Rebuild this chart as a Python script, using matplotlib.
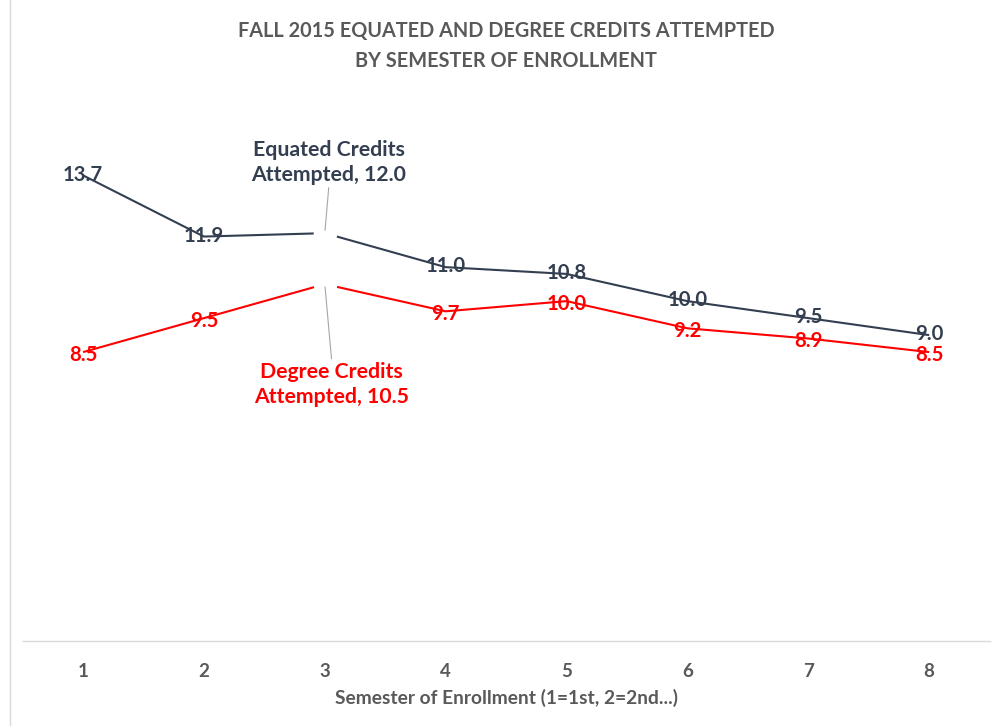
import matplotlib
matplotlib.use("Agg")
import matplotlib.pyplot as plt
from matplotlib.lines import Line2D

semesters = [1, 2, 3, 4, 5, 6, 7, 8]
equated = [13.7, 11.9, 12.0, 11.0, 10.8, 10.0, 9.5, 9.0]
degree = [8.5, 9.5, 10.5, 9.7, 10.0, 9.2, 8.9, 8.5]
callout_idx = 2

NAVY = "#333F50"
RED = "#FF0000"
GRAY = "#595959"

plt.rcParams['font.family'] = ['Lato', 'DejaVu Sans']

fig = plt.figure(figsize=(9.92, 7.26), dpi=100)
ax = fig.add_axes([0.0228, 0.1171, 0.9748, 0.749])
ax.set_xlim(0.5, 8.5)
ax.set_ylim(0, 16)

for vals, col, dy in [(equated, NAVY, 0.5), (degree, RED, -2)]:
    ax.plot(semesters, vals, color=col, lw=1.5, zorder=2, solid_capstyle='butt')
    # blank area around the moved label's point
    ax.plot([semesters[callout_idx]], [vals[callout_idx]], 'o', ms=17,
            mfc='white', mec='none', zorder=3)
    for i, (x, v) in enumerate(zip(semesters, vals)):
        if i == callout_idx:
            continue
        ax.annotate(f"{v:.1f}", xy=(x, v), xytext=(0, dy),
                    textcoords='offset points', ha='center', va='center',
                    color=col, fontsize=14.6, fontweight='bold', zorder=5)

ax.annotate(f"Equated Credits\nAttempted, {equated[callout_idx]:.1f}",
            xy=(semesters[callout_idx], equated[callout_idx]),
            xytext=(3, 51), textcoords='offset points', ha='center', va='center',
            color=NAVY, fontsize=15.3, fontweight='bold', linespacing=1.32,
            arrowprops=dict(arrowstyle='-', color='#A6A6A6', lw=0.8,
                            shrinkA=0, shrinkB=2, relpos=(0.5, 0)), zorder=5)
ax.annotate(f"Degree Credits\nAttempted, {degree[callout_idx]:.1f}",
            xy=(semesters[callout_idx], degree[callout_idx]),
            xytext=(5, -72), textcoords='offset points', ha='center', va='center',
            color=RED, fontsize=15.3, fontweight='bold', linespacing=1.32,
            arrowprops=dict(arrowstyle='-', color='#A6A6A6', lw=0.8,
                            shrinkA=0, shrinkB=2, relpos=(0.5, 1)), zorder=5)

for s in ['top', 'right', 'left']:
    ax.spines[s].set_visible(False)
ax.spines['bottom'].set_color('#D9D9D9')
ax.spines['bottom'].set_linewidth(1.0)
ax.set_yticks([])
ax.set_xticks(semesters)
ax.set_xticklabels([str(s) for s in semesters], color=GRAY, fontsize=13.5,
                   fontweight='bold')
ax.tick_params(axis='x', length=0, pad=16)
ax.set_xlabel("Semester of Enrollment (1=1st, 2=2nd...)", color=GRAY,
              fontsize=13.8, fontweight='bold', labelpad=6)

fig.text(0.51, 0.937, "FALL 2015 EQUATED AND DEGREE CREDITS ATTEMPTED\nBY SEMESTER OF ENROLLMENT",
         ha='center', va='center', color=GRAY, fontsize=14.3, fontweight='bold',
         linespacing=1.6)

# chart area border on the left
fig.add_artist(Line2D([10 / 992, 10 / 992], [0, 1], transform=fig.transFigure,
                      color='#D9D9D9', lw=1))

fig.savefig("out.png", dpi=100)
